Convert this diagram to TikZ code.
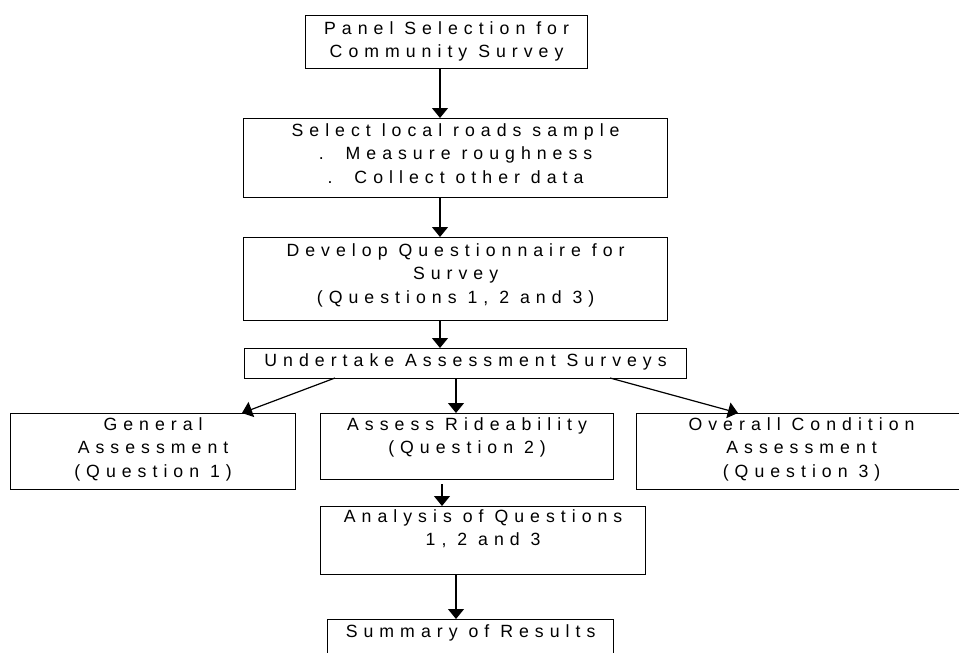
\documentclass[tikz,border=0pt]{standalone}
\usepackage{fontspec}
\setmainfont[LetterSpace=34]{Liberation Sans}
\usetikzlibrary{arrows.meta}
\tikzset{
  box/.style={draw=black, line width=1.2pt, rectangle, anchor=north west, inner sep=0pt},
  txt/.style={anchor=north, align=center, inner sep=0pt, font=\fontsize{17.7pt}{23.5pt}\selectfont},
  arr/.style={line width=1.2pt, -{Triangle[width=16pt,length=10pt]}}
}
\begin{document}
\begin{tikzpicture}[x=1pt,y=-1pt]
\useasboundingbox (0,0) rectangle (959,653);
\clip (0,0) rectangle (959,653);
% boxes
\node[box, minimum width=282pt, minimum height=53pt] (b1) at (305,15) {};
\node[box, minimum width=424pt, minimum height=79pt] (b2) at (243,118) {};
\node[box, minimum width=424pt, minimum height=83pt] (b3) at (243,237) {};
\node[box, minimum width=442pt, minimum height=30pt] (b4) at (244,348) {};
\node[box, minimum width=285pt, minimum height=76pt] (b5) at (10,413) {};
\node[box, minimum width=293pt, minimum height=66pt] (b6) at (320,413) {};
\node[box, minimum width=330pt, minimum height=76pt] (b7) at (636,413) {};
\node[box, minimum width=325pt, minimum height=68pt] (b8) at (320,506) {};
\node[box, minimum width=286pt, minimum height=60pt] (b9) at (327,619) {};
% texts
\node[txt] (t1) at ([yshift=-6pt]b1.north) {Panel Selection for\\Community Survey};
\node[txt] (t2) at ([yshift=-5pt]b2.north) {Select local roads sample\\.\ \ Measure roughness\\.\ \ Collect other data};
\node[txt] (t3) at ([yshift=-6pt]b3.north) {Develop Questionnaire for\\Survey\\(Questions 1, 2 and 3)};
\node[txt] (t4) at ([yshift=-5pt]b4.north) {Undertake Assessment Surveys};
\node[txt] (t5) at ([yshift=-4pt]b5.north) {General\\Assessment\\(Question 1)};
\node[txt] (t6) at ([yshift=-4pt]b6.north) {Assess Rideability\\(Question 2)};
\node[txt] (t7) at ([yshift=-4pt]b7.north) {Overall Condition\\Assessment\\(Question 3)};
\node[txt] (t8) at ([yshift=-3pt]b8.north) {Analysis of Questions\\1, 2 and 3};
\node[txt] (t9) at ([yshift=-5pt]b9.north) {Summary of Results};
% connector x positions
\coordinate (xa) at (440,0);
\coordinate (xb) at (456,0);
\coordinate (xc) at (442,0);
\coordinate (s5) at (335,378);
\coordinate (e5) at (242,413);
\coordinate (s7) at (610,378);
\coordinate (e7) at (738,413);
% connectors
\draw[arr] (b1.south -| xa) -- (b2.north -| xa);
\draw[arr] (b2.south -| xa) -- (b3.north -| xa);
\draw[arr] (b3.south -| xa) -- (b4.north -| xa);
\draw[arr] (s5) -- (e5);
\draw[arr] (b4.south -| xb) -- (b6.north -| xb);
\draw[arr] (s7) -- (e7);
\draw[arr] ([yshift=-4pt]b6.south -| xc) -- (b8.north -| xc);
\draw[arr] (b8.south -| xb) -- (b9.north -| xb);
\end{tikzpicture}
\end{document}
